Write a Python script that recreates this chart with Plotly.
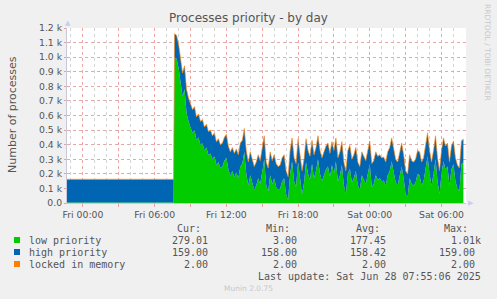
import plotly.graph_objects as go
import pandas as pd

# ---------------- data ----------------
pre_times = ["2025-06-26 22:40", "2025-06-27 07:35"]
pre_low = [3, 3]
pre_high = [158, 158]

post_start = "2025-06-27 07:40"
post_low = [
    1000, 990, 930, 820, 730, 780, 620, 560, 520, 480, 500, 430, 450, 400, 410, 360,
    380, 330, 340, 300, 320, 260, 280, 240, 250, 290, 310, 230, 190, 220, 180, 210,
    170, 250, 270, 350, 200, 120, 190, 140, 90, 120, 170, 130, 210, 300, 120, 80,
    190, 130, 170, 110, 90, 100, 150, 170, 60, 20, 200, 285, 150, 110, 280, 180,
    60, 140, 280, 200, 160, 270, 170, 220, 300, 200, 150, 190, 230, 250, 180, 260,
    200, 285, 150, 190, 260, 120, 60, 200, 235, 140, 170, 220, 120, 90, 190, 160,
    130, 200, 265, 110, 130, 190, 160, 170, 150, 155, 120, 190, 220, 285, 200, 140,
    120, 180, 250, 170, 60, 40, 170, 130, 120, 140, 200, 190, 120, 150, 250, 320,
    200, 120, 200, 300, 150, 60, 200, 285, 230, 250, 120, 230, 265, 150, 100, 80,
    265, 279,
]
post_high_value = 159
locked_value = 2

times = list(pd.to_datetime(pre_times)) + list(
    pd.date_range(post_start, periods=len(post_low), freq="10min"))
low = pre_low + post_low
high = pre_high + [post_high_value] * len(post_low)
locked = [locked_value] * len(times)

y_ticks = [i * 100 for i in range(13)]
y_labels = ["0.0"] + [f"{v/1000:.1f} k" for v in y_ticks[1:]]
x_tickvals = list(pd.date_range("2025-06-27 00:00", "2025-06-28 06:00", freq="3h"))
x_ticktext = [t.strftime("%a %H:%M") if t.hour % 6 == 0 else "" for t in x_tickvals]

legend_rows = [
    ("low priority", "#00cc00", ["279.01", "3.00", "177.45", "1.01k"]),
    ("high priority", "#0066b3", ["159.00", "158.00", "158.42", "159.00"]),
    ("locked in memory", "#ff8000", ["2.00", "2.00", "2.00", "2.00"]),
]
headers = ["Cur:", "Min:", "Avg:", "Max:"]

# ---------------- geometry helpers ----------------
W_PX, H_PX = 497, 299
L, R, T, B = 67, 466, 28, 203


def pxx(x):
    return (x - L) / (R - L)


def pxy(y):
    return (B - y) / (B - T)


fig = go.Figure()
fig.add_trace(go.Scatter(x=times, y=low, name="low priority", stackgroup="s",
                         mode="lines", line=dict(width=0, color="#00cc00"),
                         fillcolor="#00cc00"))
fig.add_trace(go.Scatter(x=times, y=high, name="high priority", stackgroup="s",
                         mode="lines", line=dict(width=0, color="#0066b3"),
                         fillcolor="#0066b3"))
fig.add_trace(go.Scatter(x=times, y=locked, name="locked in memory", stackgroup="s",
                         mode="lines", line=dict(width=0.6, color="#ff8000"),
                         fillcolor="#ff8000"))

mono = "DejaVu Sans Mono"
sans = "DejaVu Sans"
anns = []
# legend header
col_ends_hdr = [203, 292, 382, 470]
col_ends_val = [210, 299, 388, 477]
for h, xe in zip(headers, col_ends_hdr):
    anns.append(dict(x=pxx(xe), y=pxy(228), text=h, xanchor="right", yanchor="middle"))
row_y = [240, 252, 264]
shapes = []
for (name, color, vals), yy in zip(legend_rows, row_y):
    anns.append(dict(x=pxx(27), y=pxy(yy), text=name, xanchor="left", yanchor="middle"))
    shapes.append(dict(type="rect", xref="paper", yref="paper",
                       x0=pxx(14), x1=pxx(20), y0=pxy(yy + 3), y1=pxy(yy - 3),
                       fillcolor=color, line=dict(width=0)))
    for k, (v, xe) in enumerate(zip(vals, col_ends_val)):
        if v.endswith("k"):
            xe = xe + 6
        anns.append(dict(x=pxx(xe), y=pxy(yy), text=v, xanchor="right", yanchor="middle"))
anns.append(dict(x=pxx(483), y=pxy(276), text="Last update: Sat Jun 28 07:55:06 2025",
                 xanchor="right", yanchor="middle"))
for a in anns:
    a.update(xref="paper", yref="paper", showarrow=False,
             font=dict(family=mono, size=10, color="#555555"))

extra = [
    dict(x=pxx(248), y=pxy(288), text="Munin 2.0.75", xanchor="center", yanchor="middle",
         font=dict(family=sans, size=7.5, color="#c8c8c8")),
    dict(x=pxx(488), y=pxy(52), text="RRDTOOL / TOBI OETIKER", textangle=90,
         xanchor="center", yanchor="middle",
         font=dict(family=sans, size=7.5, color="#c8c8c8")),
    dict(x=pxx(12), y=pxy(115), text="Number of processes", textangle=-90,
         xanchor="center", yanchor="middle",
         font=dict(family=sans, size=11, color="#555555")),
    dict(x=pxx(67.5), y=pxy(23), text="▲", xanchor="center", yanchor="middle",
         font=dict(family=sans, size=7, color="#c8ccf4")),
    dict(x=pxx(471), y=pxy(203), text="▶", xanchor="center", yanchor="middle",
         font=dict(family=sans, size=7, color="#c8ccf4")),
]
for a in extra:
    a.update(xref="paper", yref="paper", showarrow=False)
anns += extra

fig.update_layout(
    width=W_PX, height=H_PX,
    margin=dict(l=L, r=W_PX - R, t=T, b=H_PX - B, pad=0),
    paper_bgcolor="#f0f0f0", plot_bgcolor="#ffffff",
    showlegend=False,
    title=dict(text="Processes priority - by day", x=0.5, xref="container",
               y=1 - 18 / H_PX, yref="container", xanchor="center", yanchor="middle",
               font=dict(family=sans, size=12, color="#555555")),
    annotations=anns, shapes=shapes,
    font=dict(family=sans, size=9.3, color="#555555"),
)
fig.update_xaxes(
    type="date", range=["2025-06-26 22:40", "2025-06-28 08:03"],
    tickmode="array", tickvals=x_tickvals, ticktext=x_ticktext,
    showgrid=True, gridcolor="#e8a8a8", griddash="dot", gridwidth=1,
    ticks="outside", ticklen=3, tickcolor="#e8a0a0",
    showline=True, linecolor="#c8c8d8", linewidth=1,
    zeroline=False, layer="above traces",
    minor=dict(dtick=3600000, tick0="2025-06-27 00:00", showgrid=True,
               gridcolor="#d4d4d4", griddash="dot", ticks=""),
    tickfont=dict(family=sans, size=9.3, color="#555555"),
)
fig.update_yaxes(
    range=[0, 1200], tickmode="array", tickvals=y_ticks, ticktext=y_labels,
    showgrid=True, gridcolor="#e8a8a8", griddash="dot", gridwidth=1,
    ticks="outside", ticklen=2, tickcolor="#e8a0a0",
    showline=True, linecolor="#c8c8d8", linewidth=1,
    zeroline=False, layer="above traces",
    tickfont=dict(family=sans, size=9.3, color="#555555"),
)

fig.write_html("out.html")
